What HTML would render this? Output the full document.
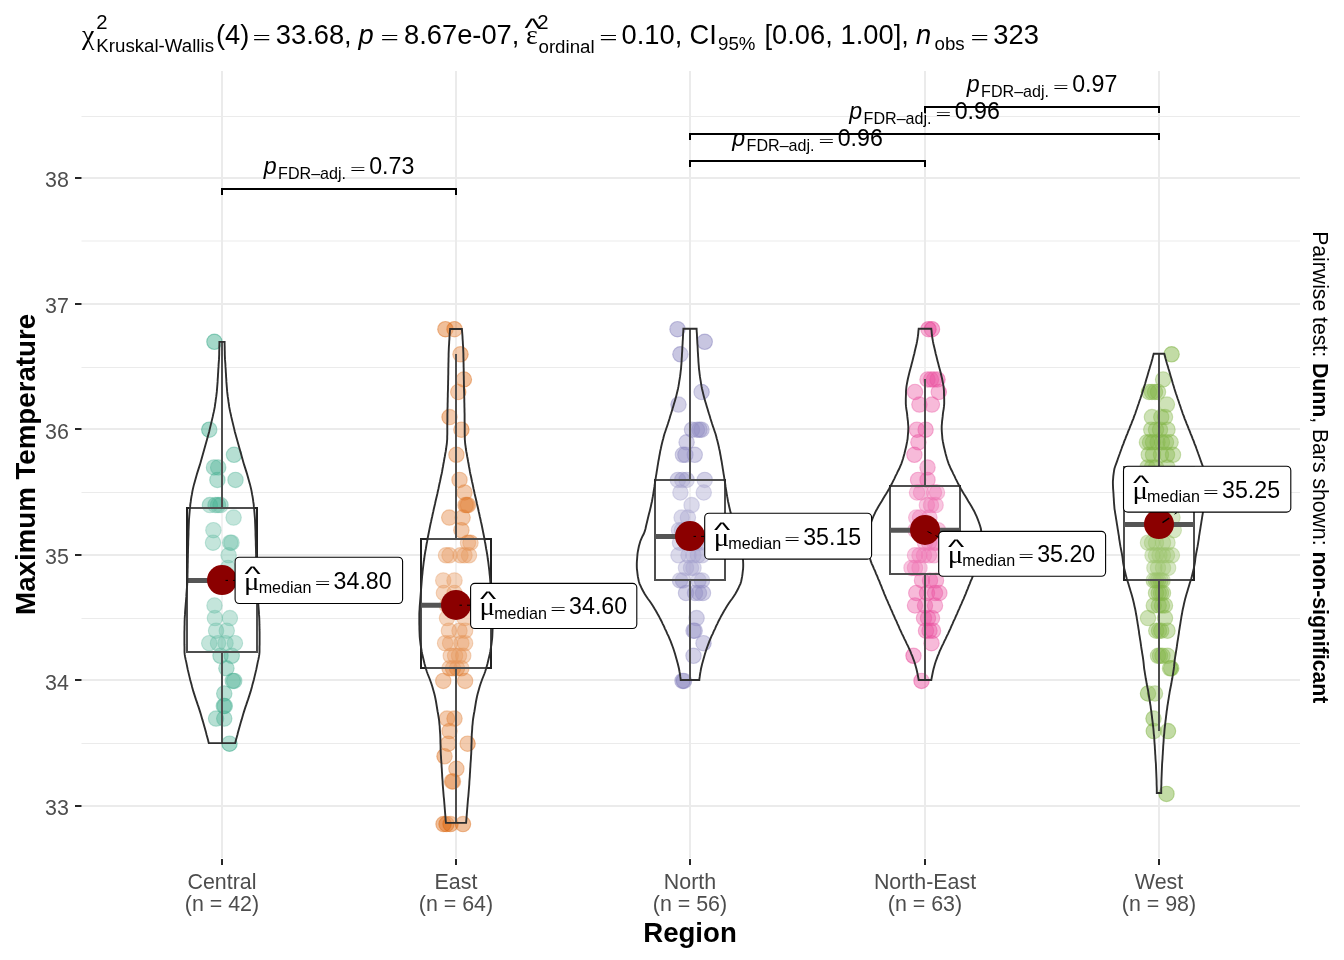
<!DOCTYPE html>
<html lang="en"><head><meta charset="utf-8"><title>Maximum Temperature by Region</title>
<style>html,body{margin:0;padding:0;background:#fff}svg{display:block}text{font-family:"Liberation Sans",Arial,sans-serif}.sy{font-family:"Liberation Serif","DejaVu Serif",serif}.it{font-style:italic}</style></head><body>
<svg width="1344" height="960" viewBox="0 0 1344 960">
<rect width="1344" height="960" fill="#fff"/>
<g stroke="#EBEBEB" fill="none">
<line x1="81.5" x2="1300" y1="806" y2="806" stroke-width="2"/>
<line x1="81.5" x2="1300" y1="680" y2="680" stroke-width="2"/>
<line x1="81.5" x2="1300" y1="555" y2="555" stroke-width="2"/>
<line x1="81.5" x2="1300" y1="429" y2="429" stroke-width="2"/>
<line x1="81.5" x2="1300" y1="304" y2="304" stroke-width="2"/>
<line x1="81.5" x2="1300" y1="178" y2="178" stroke-width="2"/>
<line x1="81.5" x2="1300" y1="116.5" y2="116.5" stroke-width="1"/>
<line x1="81.5" x2="1300" y1="241" y2="241" stroke-width="1"/>
<line x1="81.5" x2="1300" y1="367.5" y2="367.5" stroke-width="1"/>
<line x1="81.5" x2="1300" y1="492.5" y2="492.5" stroke-width="1"/>
<line x1="81.5" x2="1300" y1="618.5" y2="618.5" stroke-width="1"/>
<line x1="81.5" x2="1300" y1="743.5" y2="743.5" stroke-width="1"/>
<line x1="222" x2="222" y1="71" y2="858" stroke-width="2"/>
<line x1="456" x2="456" y1="71" y2="858" stroke-width="2"/>
<line x1="690" x2="690" y1="71" y2="858" stroke-width="2"/>
<line x1="925" x2="925" y1="71" y2="858" stroke-width="2"/>
<line x1="1159" x2="1159" y1="71" y2="858" stroke-width="2"/>
</g>
<g stroke="#262626" stroke-width="2">
<line x1="75.0" x2="81.5" y1="806" y2="806"/>
<line x1="75.0" x2="81.5" y1="680" y2="680"/>
<line x1="75.0" x2="81.5" y1="555" y2="555"/>
<line x1="75.0" x2="81.5" y1="429" y2="429"/>
<line x1="75.0" x2="81.5" y1="304" y2="304"/>
<line x1="75.0" x2="81.5" y1="178" y2="178"/>
<line x1="222" x2="222" y1="859" y2="865"/>
<line x1="456" x2="456" y1="859" y2="865"/>
<line x1="690" x2="690" y1="859" y2="865"/>
<line x1="925" x2="925" y1="859" y2="865"/>
<line x1="1159" x2="1159" y1="859" y2="865"/>
</g>
<g fill="#1B9E77" fill-opacity="0.4" stroke="#1B9E77" stroke-opacity="0.4" stroke-width="1.1">
<circle cx="214.4" cy="341.8" r="7.7"/><circle cx="209.25" cy="429.7" r="7.7"/><circle cx="234" cy="454.8" r="7.7"/><circle cx="214" cy="467.4" r="7.7"/><circle cx="218.2" cy="467.4" r="7.7"/><circle cx="217.4" cy="479.9" r="7.7"/><circle cx="235.5" cy="479.9" r="7.7"/><circle cx="209.9" cy="505.1" r="7.7"/><circle cx="215.5" cy="505.1" r="7.7"/><circle cx="220.5" cy="505.1" r="7.7"/><circle cx="218" cy="505.1" r="7.7"/><circle cx="233.6" cy="517.6" r="7.7"/><circle cx="213.4" cy="530.2" r="7.7"/><circle cx="213" cy="542.7" r="7.7"/><circle cx="230.2" cy="542.7" r="7.7"/><circle cx="231.5" cy="542.7" r="7.7"/><circle cx="228.6" cy="555.3" r="7.7"/><circle cx="228" cy="567.9" r="7.7"/><circle cx="221" cy="580.4" r="7.7"/><circle cx="223" cy="580.4" r="7.7"/><circle cx="224" cy="580.4" r="7.7"/><circle cx="220" cy="580.4" r="7.7"/><circle cx="214.5" cy="605.5" r="7.7"/><circle cx="214.9" cy="618.1" r="7.7"/><circle cx="229.9" cy="618.1" r="7.7"/><circle cx="216.1" cy="630.7" r="7.7"/><circle cx="226.75" cy="630.7" r="7.7"/><circle cx="209.25" cy="643.2" r="7.7"/><circle cx="218" cy="643.2" r="7.7"/><circle cx="225.5" cy="643.2" r="7.7"/><circle cx="234.9" cy="643.2" r="7.7"/><circle cx="220.5" cy="655.8" r="7.7"/><circle cx="231.75" cy="655.8" r="7.7"/><circle cx="226.4" cy="668.3" r="7.7"/><circle cx="232.8" cy="680.9" r="7.7"/><circle cx="234.2" cy="680.9" r="7.7"/><circle cx="224.25" cy="693.5" r="7.7"/><circle cx="223.8" cy="706.0" r="7.7"/><circle cx="224.8" cy="706.0" r="7.7"/><circle cx="216.1" cy="718.6" r="7.7"/><circle cx="224.25" cy="718.6" r="7.7"/><circle cx="229.5" cy="743.7" r="7.7"/>
</g>
<g fill="#D95F02" fill-opacity="0.4" stroke="#D95F02" stroke-opacity="0.4" stroke-width="1.1">
<circle cx="445.4" cy="329.2" r="7.7"/><circle cx="454.5" cy="329.2" r="7.7"/><circle cx="460.5" cy="354.3" r="7.7"/><circle cx="463.9" cy="379.5" r="7.7"/><circle cx="458.25" cy="392.0" r="7.7"/><circle cx="449.5" cy="417.1" r="7.7"/><circle cx="461.4" cy="429.7" r="7.7"/><circle cx="456.4" cy="454.8" r="7.7"/><circle cx="459.5" cy="479.9" r="7.7"/><circle cx="464.5" cy="492.5" r="7.7"/><circle cx="465.5" cy="505.1" r="7.7"/><circle cx="466.75" cy="505.1" r="7.7"/><circle cx="468" cy="505.1" r="7.7"/><circle cx="449.25" cy="517.6" r="7.7"/><circle cx="462.6" cy="517.6" r="7.7"/><circle cx="461.4" cy="530.2" r="7.7"/><circle cx="468" cy="542.7" r="7.7"/><circle cx="470.5" cy="542.7" r="7.7"/><circle cx="446" cy="555.3" r="7.7"/><circle cx="449.5" cy="555.3" r="7.7"/><circle cx="460.5" cy="555.3" r="7.7"/><circle cx="464.5" cy="555.3" r="7.7"/><circle cx="469" cy="555.3" r="7.7"/><circle cx="443.25" cy="580.4" r="7.7"/><circle cx="454.5" cy="580.4" r="7.7"/><circle cx="443.9" cy="593.0" r="7.7"/><circle cx="454.5" cy="593.0" r="7.7"/><circle cx="447" cy="605.5" r="7.7"/><circle cx="455" cy="605.5" r="7.7"/><circle cx="457" cy="605.5" r="7.7"/><circle cx="453" cy="605.5" r="7.7"/><circle cx="459" cy="605.5" r="7.7"/><circle cx="447" cy="618.1" r="7.7"/><circle cx="464.5" cy="618.1" r="7.7"/><circle cx="448.9" cy="630.7" r="7.7"/><circle cx="459.5" cy="630.7" r="7.7"/><circle cx="465.1" cy="630.7" r="7.7"/><circle cx="445.1" cy="643.2" r="7.7"/><circle cx="450.1" cy="643.2" r="7.7"/><circle cx="461.4" cy="643.2" r="7.7"/><circle cx="465.1" cy="643.2" r="7.7"/><circle cx="450.75" cy="655.8" r="7.7"/><circle cx="455.1" cy="655.8" r="7.7"/><circle cx="459" cy="655.8" r="7.7"/><circle cx="463.25" cy="655.8" r="7.7"/><circle cx="449.5" cy="668.3" r="7.7"/><circle cx="453" cy="668.3" r="7.7"/><circle cx="457" cy="668.3" r="7.7"/><circle cx="461.4" cy="668.3" r="7.7"/><circle cx="443.25" cy="680.9" r="7.7"/><circle cx="465.1" cy="680.9" r="7.7"/><circle cx="447" cy="718.6" r="7.7"/><circle cx="454.5" cy="718.6" r="7.7"/><circle cx="449.5" cy="731.1" r="7.7"/><circle cx="448.25" cy="743.7" r="7.7"/><circle cx="467.6" cy="743.7" r="7.7"/><circle cx="444.5" cy="756.3" r="7.7"/><circle cx="456.4" cy="768.8" r="7.7"/><circle cx="452" cy="781.4" r="7.7"/><circle cx="453" cy="781.4" r="7.7"/><circle cx="443.5" cy="824.1" r="7.7"/><circle cx="446.5" cy="824.1" r="7.7"/><circle cx="450.5" cy="824.1" r="7.7"/><circle cx="463" cy="824.1" r="7.7"/>
</g>
<g fill="#7570B3" fill-opacity="0.4" stroke="#7570B3" stroke-opacity="0.4" stroke-width="1.1">
<circle cx="677.5" cy="329.2" r="7.7"/><circle cx="704.75" cy="341.8" r="7.7"/><circle cx="680.4" cy="354.3" r="7.7"/><circle cx="701.6" cy="392.0" r="7.7"/><circle cx="678.5" cy="404.6" r="7.7"/><circle cx="692" cy="429.7" r="7.7"/><circle cx="697" cy="429.7" r="7.7"/><circle cx="699.5" cy="429.7" r="7.7"/><circle cx="701.5" cy="429.7" r="7.7"/><circle cx="686.6" cy="442.3" r="7.7"/><circle cx="682.9" cy="454.8" r="7.7"/><circle cx="685.4" cy="454.8" r="7.7"/><circle cx="694.75" cy="454.8" r="7.7"/><circle cx="677.9" cy="479.9" r="7.7"/><circle cx="682.25" cy="479.9" r="7.7"/><circle cx="686.6" cy="479.9" r="7.7"/><circle cx="704.75" cy="479.9" r="7.7"/><circle cx="680.4" cy="492.5" r="7.7"/><circle cx="703.75" cy="492.5" r="7.7"/><circle cx="691.6" cy="505.1" r="7.7"/><circle cx="681.6" cy="517.6" r="7.7"/><circle cx="687.9" cy="517.6" r="7.7"/><circle cx="679" cy="530.2" r="7.7"/><circle cx="682" cy="530.2" r="7.7"/><circle cx="690" cy="530.2" r="7.7"/><circle cx="693" cy="530.2" r="7.7"/><circle cx="688" cy="530.2" r="7.7"/><circle cx="680" cy="542.7" r="7.7"/><circle cx="688" cy="542.7" r="7.7"/><circle cx="692" cy="542.7" r="7.7"/><circle cx="696" cy="542.7" r="7.7"/><circle cx="700" cy="542.7" r="7.7"/><circle cx="690" cy="542.7" r="7.7"/><circle cx="678.5" cy="555.3" r="7.7"/><circle cx="688.5" cy="555.3" r="7.7"/><circle cx="693.5" cy="555.3" r="7.7"/><circle cx="698" cy="555.3" r="7.7"/><circle cx="702" cy="555.3" r="7.7"/><circle cx="686" cy="567.9" r="7.7"/><circle cx="691" cy="567.9" r="7.7"/><circle cx="693.5" cy="567.9" r="7.7"/><circle cx="680" cy="580.4" r="7.7"/><circle cx="683" cy="580.4" r="7.7"/><circle cx="698.5" cy="580.4" r="7.7"/><circle cx="702" cy="580.4" r="7.7"/><circle cx="686" cy="593.0" r="7.7"/><circle cx="699" cy="593.0" r="7.7"/><circle cx="703" cy="593.0" r="7.7"/><circle cx="695" cy="593.0" r="7.7"/><circle cx="696.6" cy="618.1" r="7.7"/><circle cx="693.5" cy="630.7" r="7.7"/><circle cx="694.7" cy="630.7" r="7.7"/><circle cx="703.5" cy="643.2" r="7.7"/><circle cx="693.5" cy="655.8" r="7.7"/><circle cx="682.5" cy="680.9" r="7.7"/><circle cx="684" cy="680.9" r="7.7"/>
</g>
<g fill="#E7298A" fill-opacity="0.4" stroke="#E7298A" stroke-opacity="0.4" stroke-width="1.1">
<circle cx="928.5" cy="329.2" r="7.7"/><circle cx="932" cy="329.2" r="7.7"/><circle cx="927.5" cy="379.5" r="7.7"/><circle cx="931" cy="379.5" r="7.7"/><circle cx="934" cy="379.5" r="7.7"/><circle cx="937.5" cy="379.5" r="7.7"/><circle cx="915" cy="392.0" r="7.7"/><circle cx="938.75" cy="392.0" r="7.7"/><circle cx="919.4" cy="404.6" r="7.7"/><circle cx="931.9" cy="404.6" r="7.7"/><circle cx="916.9" cy="429.7" r="7.7"/><circle cx="925.6" cy="429.7" r="7.7"/><circle cx="918.4" cy="442.3" r="7.7"/><circle cx="914.4" cy="454.8" r="7.7"/><circle cx="927.5" cy="467.4" r="7.7"/><circle cx="918.1" cy="479.9" r="7.7"/><circle cx="927.5" cy="479.9" r="7.7"/><circle cx="917" cy="492.5" r="7.7"/><circle cx="921" cy="492.5" r="7.7"/><circle cx="934" cy="492.5" r="7.7"/><circle cx="937" cy="492.5" r="7.7"/><circle cx="926.9" cy="505.1" r="7.7"/><circle cx="931" cy="505.1" r="7.7"/><circle cx="935.6" cy="505.1" r="7.7"/><circle cx="916.25" cy="517.6" r="7.7"/><circle cx="920" cy="517.6" r="7.7"/><circle cx="929.4" cy="517.6" r="7.7"/><circle cx="915.5" cy="530.2" r="7.7"/><circle cx="938" cy="530.2" r="7.7"/><circle cx="924" cy="530.2" r="7.7"/><circle cx="927" cy="530.2" r="7.7"/><circle cx="934" cy="542.7" r="7.7"/><circle cx="929" cy="542.7" r="7.7"/><circle cx="925" cy="542.7" r="7.7"/><circle cx="936.25" cy="542.7" r="7.7"/><circle cx="915" cy="555.3" r="7.7"/><circle cx="919.5" cy="555.3" r="7.7"/><circle cx="924" cy="555.3" r="7.7"/><circle cx="929" cy="555.3" r="7.7"/><circle cx="934" cy="555.3" r="7.7"/><circle cx="911.5" cy="567.9" r="7.7"/><circle cx="915" cy="567.9" r="7.7"/><circle cx="919.5" cy="567.9" r="7.7"/><circle cx="922" cy="580.4" r="7.7"/><circle cx="930" cy="580.4" r="7.7"/><circle cx="936" cy="580.4" r="7.7"/><circle cx="916.25" cy="593.0" r="7.7"/><circle cx="927" cy="593.0" r="7.7"/><circle cx="935" cy="593.0" r="7.7"/><circle cx="939.4" cy="593.0" r="7.7"/><circle cx="915" cy="605.5" r="7.7"/><circle cx="925" cy="605.5" r="7.7"/><circle cx="935" cy="605.5" r="7.7"/><circle cx="924" cy="618.1" r="7.7"/><circle cx="928" cy="618.1" r="7.7"/><circle cx="932" cy="618.1" r="7.7"/><circle cx="926" cy="630.7" r="7.7"/><circle cx="929.5" cy="630.7" r="7.7"/><circle cx="933" cy="630.7" r="7.7"/><circle cx="931.5" cy="643.2" r="7.7"/><circle cx="913.5" cy="655.8" r="7.7"/><circle cx="921.5" cy="680.9" r="7.7"/>
</g>
<g fill="#66A61E" fill-opacity="0.4" stroke="#66A61E" stroke-opacity="0.4" stroke-width="1.1">
<circle cx="1171.6" cy="354.3" r="7.7"/><circle cx="1163.1" cy="379.5" r="7.7"/><circle cx="1149" cy="392.0" r="7.7"/><circle cx="1152" cy="392.0" r="7.7"/><circle cx="1155" cy="392.0" r="7.7"/><circle cx="1158" cy="392.0" r="7.7"/><circle cx="1166.9" cy="404.6" r="7.7"/><circle cx="1151.9" cy="417.1" r="7.7"/><circle cx="1161.25" cy="417.1" r="7.7"/><circle cx="1165" cy="417.1" r="7.7"/><circle cx="1151.25" cy="429.7" r="7.7"/><circle cx="1156" cy="429.7" r="7.7"/><circle cx="1160" cy="429.7" r="7.7"/><circle cx="1167.5" cy="429.7" r="7.7"/><circle cx="1146.9" cy="442.3" r="7.7"/><circle cx="1150" cy="442.3" r="7.7"/><circle cx="1153" cy="442.3" r="7.7"/><circle cx="1157.5" cy="442.3" r="7.7"/><circle cx="1162" cy="442.3" r="7.7"/><circle cx="1166" cy="442.3" r="7.7"/><circle cx="1170.6" cy="442.3" r="7.7"/><circle cx="1148.75" cy="454.8" r="7.7"/><circle cx="1153" cy="454.8" r="7.7"/><circle cx="1161" cy="454.8" r="7.7"/><circle cx="1167" cy="454.8" r="7.7"/><circle cx="1173" cy="454.8" r="7.7"/><circle cx="1147.5" cy="467.4" r="7.7"/><circle cx="1152" cy="467.4" r="7.7"/><circle cx="1156" cy="467.4" r="7.7"/><circle cx="1167.5" cy="467.4" r="7.7"/><circle cx="1150" cy="479.9" r="7.7"/><circle cx="1155" cy="479.9" r="7.7"/><circle cx="1160" cy="479.9" r="7.7"/><circle cx="1165" cy="479.9" r="7.7"/><circle cx="1170" cy="479.9" r="7.7"/><circle cx="1150" cy="492.5" r="7.7"/><circle cx="1156" cy="492.5" r="7.7"/><circle cx="1162" cy="492.5" r="7.7"/><circle cx="1168" cy="492.5" r="7.7"/><circle cx="1152" cy="505.1" r="7.7"/><circle cx="1158" cy="505.1" r="7.7"/><circle cx="1164" cy="505.1" r="7.7"/><circle cx="1170" cy="505.1" r="7.7"/><circle cx="1172.5" cy="517.6" r="7.7"/><circle cx="1158" cy="517.6" r="7.7"/><circle cx="1161" cy="517.6" r="7.7"/><circle cx="1173.75" cy="530.2" r="7.7"/><circle cx="1157" cy="530.2" r="7.7"/><circle cx="1160" cy="530.2" r="7.7"/><circle cx="1162" cy="530.2" r="7.7"/><circle cx="1148" cy="542.7" r="7.7"/><circle cx="1152" cy="542.7" r="7.7"/><circle cx="1156" cy="542.7" r="7.7"/><circle cx="1163" cy="542.7" r="7.7"/><circle cx="1167.5" cy="542.7" r="7.7"/><circle cx="1152.5" cy="555.3" r="7.7"/><circle cx="1156" cy="555.3" r="7.7"/><circle cx="1159.5" cy="555.3" r="7.7"/><circle cx="1163" cy="555.3" r="7.7"/><circle cx="1167" cy="555.3" r="7.7"/><circle cx="1171.9" cy="555.3" r="7.7"/><circle cx="1154.4" cy="567.9" r="7.7"/><circle cx="1158" cy="567.9" r="7.7"/><circle cx="1163" cy="567.9" r="7.7"/><circle cx="1168.1" cy="567.9" r="7.7"/><circle cx="1153.75" cy="580.4" r="7.7"/><circle cx="1156" cy="580.4" r="7.7"/><circle cx="1158.1" cy="580.4" r="7.7"/><circle cx="1160.5" cy="580.4" r="7.7"/><circle cx="1162.5" cy="580.4" r="7.7"/><circle cx="1156" cy="593.0" r="7.7"/><circle cx="1158.75" cy="593.0" r="7.7"/><circle cx="1161" cy="593.0" r="7.7"/><circle cx="1163" cy="593.0" r="7.7"/><circle cx="1153.75" cy="605.5" r="7.7"/><circle cx="1158.75" cy="605.5" r="7.7"/><circle cx="1162" cy="605.5" r="7.7"/><circle cx="1165" cy="605.5" r="7.7"/><circle cx="1148" cy="618.1" r="7.7"/><circle cx="1165" cy="618.1" r="7.7"/><circle cx="1156.25" cy="630.7" r="7.7"/><circle cx="1159" cy="630.7" r="7.7"/><circle cx="1161.25" cy="630.7" r="7.7"/><circle cx="1167.5" cy="630.7" r="7.7"/><circle cx="1158" cy="655.8" r="7.7"/><circle cx="1160" cy="655.8" r="7.7"/><circle cx="1162.5" cy="655.8" r="7.7"/><circle cx="1167.5" cy="655.8" r="7.7"/><circle cx="1170" cy="668.3" r="7.7"/><circle cx="1171.2" cy="668.3" r="7.7"/><circle cx="1148" cy="693.5" r="7.7"/><circle cx="1155" cy="693.5" r="7.7"/><circle cx="1153.5" cy="718.6" r="7.7"/><circle cx="1153.75" cy="731.1" r="7.7"/><circle cx="1168" cy="731.1" r="7.7"/><circle cx="1166.5" cy="793.9" r="7.7"/>
</g>
<g stroke="#222" stroke-width="2" fill="#fff" fill-opacity="0.2">
<line x1="222" x2="222" y1="342" y2="508"/><line x1="222" x2="222" y1="652" y2="743"/>
<rect x="187.0" y="508" width="70.0" height="144.0"/>
<line x1="187.0" x2="257.0" y1="580.4" y2="580.4" stroke-width="5" stroke="#2b2b2b"/>
<line x1="456" x2="456" y1="354" y2="539"/><line x1="456" x2="456" y1="668" y2="823"/>
<rect x="421.0" y="539" width="70.0" height="129.0"/>
<line x1="421.0" x2="491.0" y1="605.2" y2="605.2" stroke-width="5" stroke="#2b2b2b"/>
<line x1="690" x2="690" y1="329" y2="480"/><line x1="690" x2="690" y1="580" y2="680"/>
<rect x="655.0" y="480" width="70.0" height="100.0"/>
<line x1="655.0" x2="725.0" y1="536.4" y2="536.4" stroke-width="5" stroke="#2b2b2b"/>
<line x1="925" x2="925" y1="379" y2="486"/><line x1="925" x2="925" y1="574" y2="680"/>
<rect x="890.0" y="486" width="70.0" height="88.0"/>
<line x1="890.0" x2="960.0" y1="530.2" y2="530.2" stroke-width="5" stroke="#2b2b2b"/>
<line x1="1159" x2="1159" y1="354" y2="467"/><line x1="1159" x2="1159" y1="580" y2="731"/>
<rect x="1124.0" y="467" width="70.0" height="113.0"/>
<line x1="1124.0" x2="1194.0" y1="524.4" y2="524.4" stroke-width="5" stroke="#2b2b2b"/>
</g>
<g stroke="#2e2e2e" stroke-width="1.9" fill="#fff" fill-opacity="0.2" stroke-linejoin="miter">
<path d="M224.6,341.9 L224.6,344.4 L224.7,346.9 L224.7,349.4 L224.8,351.9 L224.8,354.4 L224.9,356.9 L225.0,359.4 L225.2,361.9 L225.4,364.4 L225.5,366.9 L225.7,369.4 L225.8,371.9 L226.0,374.4 L226.1,376.9 L226.3,379.4 L226.4,381.9 L226.6,384.4 L226.8,386.9 L227.0,389.4 L227.2,391.9 L227.5,394.4 L227.8,396.9 L228.2,399.4 L228.5,401.9 L228.9,404.4 L229.2,406.9 L229.7,409.4 L230.2,411.9 L230.8,414.4 L231.3,416.9 L231.9,419.4 L232.5,421.9 L233.1,424.4 L233.7,426.9 L234.3,429.4 L234.9,431.9 L235.6,434.4 L236.3,436.9 L237.0,439.4 L237.7,441.9 L238.4,444.4 L239.1,446.9 L239.8,449.4 L240.5,451.9 L241.2,454.4 L241.9,456.9 L242.6,459.4 L243.3,461.9 L244.0,464.4 L244.8,466.9 L245.6,469.4 L246.4,471.9 L247.2,474.4 L247.9,476.9 L248.6,479.4 L249.3,481.9 L250.0,484.4 L250.6,486.9 L251.2,489.4 L251.7,491.9 L252.1,494.4 L252.6,496.9 L253.0,499.4 L253.3,501.9 L253.7,504.4 L253.9,506.9 L254.2,509.4 L254.4,511.9 L254.6,514.4 L254.8,516.9 L255.0,519.4 L255.1,521.9 L255.2,524.4 L255.3,526.9 L255.4,529.4 L255.5,531.9 L255.5,534.4 L255.6,536.9 L255.7,539.4 L255.8,541.9 L255.8,544.4 L255.9,546.9 L256.0,549.4 L256.0,551.9 L256.1,554.4 L256.1,556.9 L256.2,559.4 L256.2,561.9 L256.3,564.4 L256.3,566.9 L256.4,569.4 L256.4,571.9 L256.5,574.4 L256.5,576.9 L256.6,579.4 L256.7,581.9 L256.8,584.4 L257.0,586.9 L257.2,589.4 L257.4,591.9 L257.6,594.4 L257.7,596.9 L257.9,599.4 L258.1,601.9 L258.3,604.4 L258.5,606.9 L258.7,609.4 L258.9,611.9 L259.0,614.4 L259.2,616.9 L259.3,619.4 L259.4,621.9 L259.4,624.4 L259.5,626.9 L259.5,629.4 L259.6,631.9 L259.6,634.4 L259.6,636.9 L259.6,639.4 L259.6,641.9 L259.6,644.4 L259.5,646.9 L259.5,649.4 L259.5,651.9 L259.3,654.4 L258.9,656.9 L258.4,659.4 L257.8,661.9 L257.3,664.4 L256.8,666.9 L256.3,669.4 L255.7,671.9 L255.1,674.4 L254.5,676.9 L253.9,679.4 L253.2,681.9 L252.5,684.4 L251.9,686.9 L251.2,689.4 L250.5,691.9 L249.7,694.4 L248.9,696.9 L248.1,699.4 L247.2,701.9 L246.4,704.4 L245.5,706.9 L244.7,709.4 L243.9,711.9 L243.1,714.4 L242.4,716.9 L241.7,719.4 L240.9,721.9 L240.2,724.4 L239.5,726.9 L238.8,729.4 L238.1,731.9 L237.5,734.4 L236.8,736.9 L236.1,739.4 L235.5,741.9 L235.2,743.1 L208.8,743.1 L208.5,741.9 L207.9,739.4 L207.2,736.9 L206.5,734.4 L205.9,731.9 L205.2,729.4 L204.5,726.9 L203.8,724.4 L203.1,721.9 L202.3,719.4 L201.6,716.9 L200.9,714.4 L200.1,711.9 L199.3,709.4 L198.5,706.9 L197.6,704.4 L196.8,701.9 L195.9,699.4 L195.1,696.9 L194.3,694.4 L193.5,691.9 L192.8,689.4 L192.1,686.9 L191.5,684.4 L190.8,681.9 L190.1,679.4 L189.5,676.9 L188.9,674.4 L188.3,671.9 L187.7,669.4 L187.2,666.9 L186.7,664.4 L186.2,661.9 L185.6,659.4 L185.1,656.9 L184.7,654.4 L184.5,651.9 L184.5,649.4 L184.5,646.9 L184.4,644.4 L184.4,641.9 L184.4,639.4 L184.4,636.9 L184.4,634.4 L184.4,631.9 L184.5,629.4 L184.5,626.9 L184.6,624.4 L184.6,621.9 L184.7,619.4 L184.8,616.9 L185.0,614.4 L185.1,611.9 L185.3,609.4 L185.5,606.9 L185.7,604.4 L185.9,601.9 L186.1,599.4 L186.3,596.9 L186.4,594.4 L186.6,591.9 L186.8,589.4 L187.0,586.9 L187.2,584.4 L187.3,581.9 L187.4,579.4 L187.5,576.9 L187.5,574.4 L187.6,571.9 L187.6,569.4 L187.7,566.9 L187.7,564.4 L187.8,561.9 L187.8,559.4 L187.9,556.9 L187.9,554.4 L188.0,551.9 L188.0,549.4 L188.1,546.9 L188.2,544.4 L188.2,541.9 L188.3,539.4 L188.4,536.9 L188.5,534.4 L188.5,531.9 L188.6,529.4 L188.7,526.9 L188.8,524.4 L188.9,521.9 L189.0,519.4 L189.2,516.9 L189.4,514.4 L189.6,511.9 L189.8,509.4 L190.1,506.9 L190.3,504.4 L190.7,501.9 L191.0,499.4 L191.4,496.9 L191.9,494.4 L192.3,491.9 L192.8,489.4 L193.4,486.9 L194.0,484.4 L194.7,481.9 L195.4,479.4 L196.1,476.9 L196.8,474.4 L197.6,471.9 L198.4,469.4 L199.2,466.9 L200.0,464.4 L200.7,461.9 L201.4,459.4 L202.1,456.9 L202.8,454.4 L203.5,451.9 L204.2,449.4 L204.9,446.9 L205.6,444.4 L206.3,441.9 L207.0,439.4 L207.7,436.9 L208.4,434.4 L209.1,431.9 L209.7,429.4 L210.3,426.9 L210.9,424.4 L211.5,421.9 L212.1,419.4 L212.7,416.9 L213.2,414.4 L213.8,411.9 L214.3,409.4 L214.8,406.9 L215.1,404.4 L215.5,401.9 L215.8,399.4 L216.2,396.9 L216.5,394.4 L216.8,391.9 L217.0,389.4 L217.2,386.9 L217.4,384.4 L217.6,381.9 L217.7,379.4 L217.9,376.9 L218.0,374.4 L218.2,371.9 L218.3,369.4 L218.5,366.9 L218.6,364.4 L218.8,361.9 L219.0,359.4 L219.1,356.9 L219.2,354.4 L219.2,351.9 L219.3,349.4 L219.3,346.9 L219.4,344.4 L219.4,341.9Z"/>
<path d="M461.9,329.0 L462.1,331.5 L462.3,334.0 L462.5,336.5 L462.6,339.0 L462.8,341.5 L462.9,344.0 L463.1,346.5 L463.2,349.0 L463.3,351.5 L463.4,354.0 L463.4,356.5 L463.5,359.0 L463.5,361.5 L463.6,364.0 L463.6,366.5 L463.7,369.0 L463.7,371.5 L463.7,374.0 L463.8,376.5 L463.8,379.0 L463.9,381.5 L463.9,384.0 L464.0,386.5 L464.0,389.0 L464.1,391.5 L464.2,394.0 L464.2,396.5 L464.3,399.0 L464.3,401.5 L464.4,404.0 L464.4,406.5 L464.5,409.0 L464.5,411.5 L464.6,414.0 L464.6,416.5 L464.6,419.0 L464.6,421.5 L464.7,424.0 L464.7,426.5 L464.7,429.0 L464.7,431.5 L464.7,434.0 L464.8,436.5 L464.8,439.0 L465.0,441.5 L465.2,444.0 L465.6,446.5 L465.9,449.0 L466.3,451.5 L466.8,454.0 L467.2,456.5 L467.7,459.0 L468.1,461.5 L468.6,464.0 L469.0,466.5 L469.5,469.0 L469.9,471.5 L470.4,474.0 L471.0,476.5 L471.5,479.0 L472.0,481.5 L472.6,484.0 L473.1,486.5 L473.6,489.0 L474.2,491.5 L474.7,494.0 L475.3,496.5 L475.9,499.0 L476.5,501.5 L477.0,504.0 L477.6,506.5 L478.2,509.0 L478.7,511.5 L479.3,514.0 L479.8,516.5 L480.4,519.0 L480.9,521.5 L481.5,524.0 L482.0,526.5 L482.5,529.0 L483.0,531.5 L483.5,534.0 L484.0,536.5 L484.5,539.0 L484.9,541.5 L485.4,544.0 L485.8,546.5 L486.2,549.0 L486.7,551.5 L487.1,554.0 L487.5,556.5 L487.8,559.0 L488.2,561.5 L488.5,564.0 L488.8,566.5 L489.1,569.0 L489.4,571.5 L489.6,574.0 L489.9,576.5 L490.1,579.0 L490.3,581.5 L490.5,584.0 L490.7,586.5 L490.9,589.0 L491.1,591.5 L491.3,594.0 L491.5,596.5 L491.7,599.0 L491.9,601.5 L492.1,604.0 L492.3,606.5 L492.4,609.0 L492.6,611.5 L492.7,614.0 L492.7,616.5 L492.7,619.0 L492.7,621.5 L492.7,624.0 L492.6,626.5 L492.6,629.0 L492.5,631.5 L492.4,634.0 L492.3,636.5 L492.1,639.0 L491.8,641.5 L491.5,644.0 L491.1,646.5 L490.7,649.0 L490.3,651.5 L489.8,654.0 L489.2,656.5 L488.6,659.0 L488.0,661.5 L487.4,664.0 L486.7,666.5 L486.0,669.0 L485.2,671.5 L484.3,674.0 L483.3,676.5 L482.3,679.0 L481.4,681.5 L480.5,684.0 L479.7,686.5 L479.0,689.0 L478.3,691.5 L477.6,694.0 L477.0,696.5 L476.5,699.0 L476.0,701.5 L475.6,704.0 L475.2,706.5 L474.8,709.0 L474.4,711.5 L473.9,714.0 L473.5,716.5 L473.1,719.0 L472.8,721.5 L472.6,724.0 L472.3,726.5 L472.2,729.0 L472.0,731.5 L471.8,734.0 L471.7,736.5 L471.6,739.0 L471.6,741.5 L471.5,744.0 L471.4,746.5 L471.4,749.0 L471.3,751.5 L471.2,754.0 L471.0,756.5 L470.9,759.0 L470.7,761.5 L470.5,764.0 L470.4,766.5 L470.2,769.0 L470.1,771.5 L469.9,774.0 L469.8,776.5 L469.6,779.0 L469.4,781.5 L469.3,784.0 L469.1,786.5 L468.9,789.0 L468.7,791.5 L468.5,794.0 L468.3,796.5 L468.0,799.0 L467.8,801.5 L467.6,804.0 L467.4,806.5 L467.2,809.0 L467.0,811.5 L466.8,814.0 L466.6,816.5 L466.4,819.0 L466.2,821.5 L466.1,822.9 L445.9,822.9 L445.8,821.5 L445.6,819.0 L445.4,816.5 L445.2,814.0 L445.0,811.5 L444.8,809.0 L444.6,806.5 L444.4,804.0 L444.2,801.5 L444.0,799.0 L443.7,796.5 L443.5,794.0 L443.3,791.5 L443.1,789.0 L442.9,786.5 L442.7,784.0 L442.6,781.5 L442.4,779.0 L442.2,776.5 L442.1,774.0 L441.9,771.5 L441.8,769.0 L441.6,766.5 L441.5,764.0 L441.3,761.5 L441.1,759.0 L441.0,756.5 L440.8,754.0 L440.7,751.5 L440.6,749.0 L440.6,746.5 L440.5,744.0 L440.4,741.5 L440.4,739.0 L440.3,736.5 L440.2,734.0 L440.0,731.5 L439.8,729.0 L439.7,726.5 L439.4,724.0 L439.2,721.5 L438.9,719.0 L438.5,716.5 L438.1,714.0 L437.6,711.5 L437.2,709.0 L436.8,706.5 L436.4,704.0 L436.0,701.5 L435.5,699.0 L435.0,696.5 L434.4,694.0 L433.7,691.5 L433.0,689.0 L432.3,686.5 L431.5,684.0 L430.6,681.5 L429.7,679.0 L428.7,676.5 L427.7,674.0 L426.8,671.5 L426.0,669.0 L425.3,666.5 L424.6,664.0 L424.0,661.5 L423.4,659.0 L422.8,656.5 L422.2,654.0 L421.7,651.5 L421.3,649.0 L420.9,646.5 L420.5,644.0 L420.2,641.5 L419.9,639.0 L419.7,636.5 L419.6,634.0 L419.5,631.5 L419.4,629.0 L419.4,626.5 L419.3,624.0 L419.3,621.5 L419.3,619.0 L419.3,616.5 L419.3,614.0 L419.4,611.5 L419.6,609.0 L419.7,606.5 L419.9,604.0 L420.1,601.5 L420.3,599.0 L420.5,596.5 L420.7,594.0 L420.9,591.5 L421.1,589.0 L421.3,586.5 L421.5,584.0 L421.7,581.5 L421.9,579.0 L422.1,576.5 L422.4,574.0 L422.6,571.5 L422.9,569.0 L423.2,566.5 L423.5,564.0 L423.8,561.5 L424.2,559.0 L424.5,556.5 L424.9,554.0 L425.3,551.5 L425.8,549.0 L426.2,546.5 L426.6,544.0 L427.1,541.5 L427.5,539.0 L428.0,536.5 L428.5,534.0 L429.0,531.5 L429.5,529.0 L430.0,526.5 L430.5,524.0 L431.1,521.5 L431.6,519.0 L432.2,516.5 L432.7,514.0 L433.3,511.5 L433.8,509.0 L434.4,506.5 L435.0,504.0 L435.5,501.5 L436.1,499.0 L436.7,496.5 L437.3,494.0 L437.8,491.5 L438.4,489.0 L438.9,486.5 L439.4,484.0 L440.0,481.5 L440.5,479.0 L441.0,476.5 L441.6,474.0 L442.1,471.5 L442.5,469.0 L443.0,466.5 L443.4,464.0 L443.9,461.5 L444.3,459.0 L444.8,456.5 L445.2,454.0 L445.7,451.5 L446.1,449.0 L446.4,446.5 L446.8,444.0 L447.0,441.5 L447.2,439.0 L447.2,436.5 L447.3,434.0 L447.3,431.5 L447.3,429.0 L447.3,426.5 L447.3,424.0 L447.4,421.5 L447.4,419.0 L447.4,416.5 L447.4,414.0 L447.5,411.5 L447.5,409.0 L447.6,406.5 L447.6,404.0 L447.7,401.5 L447.7,399.0 L447.8,396.5 L447.8,394.0 L447.9,391.5 L448.0,389.0 L448.0,386.5 L448.1,384.0 L448.1,381.5 L448.2,379.0 L448.2,376.5 L448.3,374.0 L448.3,371.5 L448.3,369.0 L448.4,366.5 L448.4,364.0 L448.5,361.5 L448.5,359.0 L448.6,356.5 L448.6,354.0 L448.7,351.5 L448.8,349.0 L448.9,346.5 L449.1,344.0 L449.2,341.5 L449.4,339.0 L449.5,336.5 L449.7,334.0 L449.9,331.5 L450.1,329.0Z"/>
<path d="M696.6,328.8 L696.7,331.2 L696.9,333.8 L697.0,336.2 L697.1,338.8 L697.3,341.2 L697.4,343.8 L697.6,346.2 L697.7,348.8 L697.8,351.2 L698.0,353.8 L698.1,356.2 L698.3,358.8 L698.4,361.2 L698.6,363.8 L698.8,366.2 L699.0,368.8 L699.3,371.2 L699.6,373.8 L699.9,376.2 L700.3,378.8 L700.7,381.2 L701.1,383.8 L701.5,386.2 L702.0,388.8 L702.6,391.2 L703.2,393.8 L703.8,396.2 L704.5,398.8 L705.2,401.2 L706.0,403.8 L706.7,406.2 L707.5,408.8 L708.2,411.2 L709.0,413.8 L709.8,416.2 L710.5,418.8 L711.3,421.2 L712.1,423.8 L712.9,426.2 L713.8,428.8 L714.6,431.2 L715.5,433.8 L716.2,436.2 L716.8,438.8 L717.5,441.2 L718.1,443.8 L718.7,446.2 L719.2,448.8 L719.8,451.2 L720.2,453.8 L720.7,456.2 L721.1,458.8 L721.6,461.2 L722.0,463.8 L722.4,466.2 L722.8,468.8 L723.2,471.2 L723.6,473.8 L724.0,476.2 L724.4,478.8 L724.8,481.2 L725.2,483.8 L725.5,486.2 L725.9,488.8 L726.3,491.2 L726.7,493.8 L727.1,496.2 L727.6,498.8 L728.0,501.2 L728.6,503.8 L729.1,506.2 L729.7,508.8 L730.3,511.2 L731.0,513.8 L731.6,516.2 L732.2,518.8 L732.8,521.2 L733.4,523.8 L734.0,526.2 L734.5,528.8 L735.2,531.2 L736.2,533.8 L737.5,536.2 L738.7,538.8 L739.7,541.2 L740.4,543.8 L741.1,546.2 L741.6,548.8 L742.1,551.2 L742.5,553.8 L742.7,556.2 L742.9,558.8 L743.1,561.2 L743.2,563.8 L743.2,566.2 L743.1,568.8 L742.8,571.2 L742.5,573.8 L742.2,576.2 L741.7,578.8 L741.2,581.2 L740.4,583.8 L739.3,586.2 L738.1,588.8 L736.8,591.2 L735.4,593.8 L733.8,596.2 L732.1,598.8 L730.2,601.2 L728.5,603.8 L726.9,606.2 L725.4,608.8 L723.9,611.2 L722.5,613.8 L721.1,616.2 L719.8,618.8 L718.5,621.2 L717.3,623.8 L716.1,626.2 L715.0,628.8 L713.8,631.2 L712.7,633.8 L711.5,636.2 L710.4,638.8 L709.4,641.2 L708.4,643.8 L707.5,646.2 L706.6,648.8 L705.8,651.2 L705.0,653.8 L704.3,656.2 L703.6,658.8 L702.9,661.2 L702.2,663.8 L701.6,666.2 L701.0,668.8 L700.6,671.2 L700.1,673.8 L699.8,676.2 L699.4,678.8 L699.3,680.0 L680.7,680.0 L680.6,678.8 L680.2,676.2 L679.9,673.8 L679.4,671.2 L679.0,668.8 L678.4,666.2 L677.8,663.8 L677.1,661.2 L676.4,658.8 L675.7,656.2 L675.0,653.8 L674.2,651.2 L673.4,648.8 L672.5,646.2 L671.6,643.8 L670.6,641.2 L669.6,638.8 L668.5,636.2 L667.3,633.8 L666.2,631.2 L665.0,628.8 L663.9,626.2 L662.7,623.8 L661.5,621.2 L660.2,618.8 L658.9,616.2 L657.5,613.8 L656.1,611.2 L654.6,608.8 L653.1,606.2 L651.5,603.8 L649.8,601.2 L647.9,598.8 L646.2,596.2 L644.6,593.8 L643.2,591.2 L641.9,588.8 L640.7,586.2 L639.6,583.8 L638.8,581.2 L638.3,578.8 L637.8,576.2 L637.5,573.8 L637.2,571.2 L636.9,568.8 L636.8,566.2 L636.8,563.8 L636.9,561.2 L637.1,558.8 L637.3,556.2 L637.5,553.8 L637.9,551.2 L638.4,548.8 L638.9,546.2 L639.6,543.8 L640.3,541.2 L641.3,538.8 L642.5,536.2 L643.8,533.8 L644.8,531.2 L645.5,528.8 L646.0,526.2 L646.6,523.8 L647.2,521.2 L647.8,518.8 L648.4,516.2 L649.0,513.8 L649.7,511.2 L650.3,508.8 L650.9,506.2 L651.4,503.8 L652.0,501.2 L652.4,498.8 L652.9,496.2 L653.3,493.8 L653.7,491.2 L654.1,488.8 L654.5,486.2 L654.8,483.8 L655.2,481.2 L655.6,478.8 L656.0,476.2 L656.4,473.8 L656.8,471.2 L657.2,468.8 L657.6,466.2 L658.0,463.8 L658.4,461.2 L658.9,458.8 L659.3,456.2 L659.8,453.8 L660.2,451.2 L660.8,448.8 L661.3,446.2 L661.9,443.8 L662.5,441.2 L663.2,438.8 L663.8,436.2 L664.5,433.8 L665.4,431.2 L666.2,428.8 L667.1,426.2 L667.9,423.8 L668.7,421.2 L669.5,418.8 L670.2,416.2 L671.0,413.8 L671.8,411.2 L672.5,408.8 L673.3,406.2 L674.0,403.8 L674.8,401.2 L675.5,398.8 L676.2,396.2 L676.8,393.8 L677.4,391.2 L678.0,388.8 L678.5,386.2 L678.9,383.8 L679.3,381.2 L679.7,378.8 L680.1,376.2 L680.4,373.8 L680.7,371.2 L681.0,368.8 L681.2,366.2 L681.4,363.8 L681.6,361.2 L681.7,358.8 L681.9,356.2 L682.0,353.8 L682.2,351.2 L682.3,348.8 L682.4,346.2 L682.6,343.8 L682.7,341.2 L682.9,338.8 L683.0,336.2 L683.1,333.8 L683.3,331.2 L683.4,328.8Z"/>
<path d="M931.3,328.8 L931.6,331.2 L931.8,333.8 L932.1,336.2 L932.5,338.8 L932.9,341.2 L933.4,343.8 L934.0,346.2 L934.6,348.8 L935.2,351.2 L935.7,353.8 L936.4,356.2 L937.0,358.8 L937.6,361.2 L938.3,363.8 L938.9,366.2 L939.6,368.8 L940.3,371.2 L940.9,373.8 L941.5,376.2 L942.1,378.8 L942.6,381.2 L943.1,383.8 L943.5,386.2 L943.8,388.8 L944.0,391.2 L944.0,393.8 L944.1,396.2 L944.2,398.8 L944.2,401.2 L944.2,403.8 L944.0,406.2 L943.7,408.8 L943.3,411.2 L942.9,413.8 L942.7,416.2 L942.4,418.8 L942.1,421.2 L941.9,423.8 L941.7,426.2 L941.7,428.8 L941.8,431.2 L942.0,433.8 L942.2,436.2 L942.4,438.8 L942.8,441.2 L943.3,443.8 L943.8,446.2 L944.4,448.8 L945.0,451.2 L945.6,453.8 L946.3,456.2 L947.0,458.8 L947.8,461.2 L948.7,463.8 L949.7,466.2 L950.8,468.8 L952.1,471.2 L953.3,473.8 L954.5,476.2 L955.7,478.8 L956.9,481.2 L958.2,483.8 L959.5,486.2 L960.9,488.8 L962.3,491.2 L963.8,493.8 L965.4,496.2 L966.9,498.8 L968.3,501.2 L969.9,503.8 L971.4,506.2 L972.8,508.8 L974.2,511.2 L975.4,513.8 L976.5,516.2 L977.6,518.8 L978.5,521.2 L979.4,523.8 L980.2,526.2 L980.9,528.8 L981.2,531.2 L981.4,533.8 L981.5,536.2 L981.6,538.8 L981.7,541.2 L981.7,543.8 L981.7,546.2 L981.5,548.8 L981.2,551.2 L980.9,553.8 L980.4,556.2 L979.9,558.8 L979.2,561.2 L978.2,563.8 L977.1,566.2 L976.0,568.8 L974.9,571.2 L973.9,573.8 L972.8,576.2 L971.8,578.8 L970.7,581.2 L969.7,583.8 L968.7,586.2 L967.7,588.8 L966.7,591.2 L965.7,593.8 L964.7,596.2 L963.6,598.8 L962.5,601.2 L961.4,603.8 L960.3,606.2 L959.2,608.8 L958.1,611.2 L957.0,613.8 L955.9,616.2 L954.8,618.8 L953.6,621.2 L952.5,623.8 L951.4,626.2 L950.3,628.8 L949.2,631.2 L948.0,633.8 L946.8,636.2 L945.6,638.8 L944.4,641.2 L943.2,643.8 L942.0,646.2 L940.8,648.8 L939.7,651.2 L938.7,653.8 L937.7,656.2 L936.7,658.8 L935.8,661.2 L935.0,663.8 L934.3,666.2 L933.6,668.8 L933.0,671.2 L932.5,673.8 L932.0,676.2 L931.5,678.8 L931.3,680.0 L918.7,680.0 L918.5,678.8 L918.0,676.2 L917.5,673.8 L917.0,671.2 L916.4,668.8 L915.7,666.2 L915.0,663.8 L914.2,661.2 L913.3,658.8 L912.3,656.2 L911.3,653.8 L910.3,651.2 L909.2,648.8 L908.0,646.2 L906.8,643.8 L905.6,641.2 L904.4,638.8 L903.2,636.2 L902.0,633.8 L900.8,631.2 L899.7,628.8 L898.6,626.2 L897.5,623.8 L896.4,621.2 L895.2,618.8 L894.1,616.2 L893.0,613.8 L891.9,611.2 L890.8,608.8 L889.7,606.2 L888.6,603.8 L887.5,601.2 L886.4,598.8 L885.3,596.2 L884.3,593.8 L883.3,591.2 L882.3,588.8 L881.3,586.2 L880.3,583.8 L879.3,581.2 L878.2,578.8 L877.2,576.2 L876.1,573.8 L875.1,571.2 L874.0,568.8 L872.9,566.2 L871.8,563.8 L870.8,561.2 L870.1,558.8 L869.6,556.2 L869.1,553.8 L868.8,551.2 L868.5,548.8 L868.3,546.2 L868.3,543.8 L868.3,541.2 L868.4,538.8 L868.5,536.2 L868.6,533.8 L868.8,531.2 L869.1,528.8 L869.8,526.2 L870.6,523.8 L871.5,521.2 L872.4,518.8 L873.5,516.2 L874.6,513.8 L875.8,511.2 L877.2,508.8 L878.6,506.2 L880.1,503.8 L881.7,501.2 L883.1,498.8 L884.6,496.2 L886.2,493.8 L887.7,491.2 L889.1,488.8 L890.5,486.2 L891.8,483.8 L893.1,481.2 L894.3,478.8 L895.5,476.2 L896.7,473.8 L897.9,471.2 L899.2,468.8 L900.3,466.2 L901.3,463.8 L902.2,461.2 L903.0,458.8 L903.7,456.2 L904.4,453.8 L905.0,451.2 L905.6,448.8 L906.2,446.2 L906.7,443.8 L907.2,441.2 L907.6,438.8 L907.8,436.2 L908.0,433.8 L908.2,431.2 L908.3,428.8 L908.3,426.2 L908.1,423.8 L907.9,421.2 L907.6,418.8 L907.3,416.2 L907.1,413.8 L906.7,411.2 L906.3,408.8 L906.0,406.2 L905.8,403.8 L905.8,401.2 L905.8,398.8 L905.9,396.2 L906.0,393.8 L906.0,391.2 L906.2,388.8 L906.5,386.2 L906.9,383.8 L907.4,381.2 L907.9,378.8 L908.5,376.2 L909.1,373.8 L909.7,371.2 L910.4,368.8 L911.1,366.2 L911.7,363.8 L912.4,361.2 L913.0,358.8 L913.6,356.2 L914.3,353.8 L914.8,351.2 L915.4,348.8 L916.0,346.2 L916.6,343.8 L917.1,341.2 L917.5,338.8 L917.9,336.2 L918.2,333.8 L918.4,331.2 L918.7,328.8Z"/>
<path d="M1164.3,353.8 L1165.0,356.2 L1165.6,358.8 L1166.3,361.2 L1167.0,363.8 L1167.8,366.2 L1168.5,368.8 L1169.3,371.2 L1170.0,373.8 L1170.7,376.2 L1171.5,378.8 L1172.2,381.2 L1172.9,383.8 L1173.7,386.2 L1174.4,388.8 L1175.2,391.2 L1176.0,393.8 L1176.9,396.2 L1177.7,398.8 L1178.6,401.2 L1179.4,403.8 L1180.3,406.2 L1181.1,408.8 L1182.0,411.2 L1182.8,413.8 L1183.8,416.2 L1184.7,418.8 L1185.7,421.2 L1186.7,423.8 L1187.7,426.2 L1188.7,428.8 L1189.7,431.2 L1190.7,433.8 L1191.7,436.2 L1192.7,438.8 L1193.7,441.2 L1194.6,443.8 L1195.6,446.2 L1196.5,448.8 L1197.4,451.2 L1198.3,453.8 L1199.2,456.2 L1200.1,458.8 L1200.9,461.2 L1201.9,463.8 L1202.8,466.2 L1203.6,468.8 L1204.0,471.2 L1204.4,473.8 L1204.7,476.2 L1204.9,478.8 L1205.1,481.2 L1205.1,483.8 L1205.0,486.2 L1204.9,488.8 L1204.7,491.2 L1204.5,493.8 L1204.4,496.2 L1204.2,498.8 L1204.1,501.2 L1203.9,503.8 L1203.7,506.2 L1203.5,508.8 L1203.1,511.2 L1202.7,513.8 L1202.3,516.2 L1201.9,518.8 L1201.5,521.2 L1201.1,523.8 L1200.7,526.2 L1200.3,528.8 L1199.9,531.2 L1199.5,533.8 L1199.1,536.2 L1198.8,538.8 L1198.4,541.2 L1198.0,543.8 L1197.6,546.2 L1197.1,548.8 L1196.6,551.2 L1196.1,553.8 L1195.7,556.2 L1195.3,558.8 L1195.1,561.2 L1194.7,563.8 L1194.2,566.2 L1193.7,568.8 L1193.1,571.2 L1192.5,573.8 L1191.9,576.2 L1191.2,578.8 L1190.4,581.2 L1189.6,583.8 L1188.9,586.2 L1188.1,588.8 L1187.4,591.2 L1186.6,593.8 L1185.9,596.2 L1185.2,598.8 L1184.6,601.2 L1184.0,603.8 L1183.5,606.2 L1182.9,608.8 L1182.4,611.2 L1182.0,613.8 L1181.5,616.2 L1181.1,618.8 L1180.7,621.2 L1180.3,623.8 L1179.9,626.2 L1179.5,628.8 L1179.1,631.2 L1178.8,633.8 L1178.4,636.2 L1178.0,638.8 L1177.6,641.2 L1177.2,643.8 L1176.9,646.2 L1176.5,648.8 L1176.1,651.2 L1175.7,653.8 L1175.3,656.2 L1174.9,658.8 L1174.6,661.2 L1174.3,663.8 L1174.1,666.2 L1173.8,668.8 L1173.4,671.2 L1173.0,673.8 L1172.6,676.2 L1172.2,678.8 L1171.7,681.2 L1171.3,683.8 L1170.8,686.2 L1170.3,688.8 L1169.8,691.2 L1169.4,693.8 L1169.0,696.2 L1168.6,698.8 L1168.2,701.2 L1167.8,703.8 L1167.4,706.2 L1167.1,708.8 L1166.7,711.2 L1166.4,713.8 L1166.1,716.2 L1165.8,718.8 L1165.5,721.2 L1165.2,723.8 L1164.9,726.2 L1164.6,728.8 L1164.4,731.2 L1164.2,733.8 L1163.9,736.2 L1163.7,738.8 L1163.6,741.2 L1163.4,743.8 L1163.2,746.2 L1163.1,748.8 L1162.9,751.2 L1162.8,753.8 L1162.6,756.2 L1162.5,758.8 L1162.3,761.2 L1162.1,763.8 L1162.0,766.2 L1161.9,768.8 L1161.8,771.2 L1161.7,773.8 L1161.6,776.2 L1161.5,778.8 L1161.4,781.2 L1161.4,783.8 L1161.3,786.2 L1161.2,788.8 L1161.2,791.2 L1161.2,793.0 L1156.8,793.0 L1156.8,791.2 L1156.8,788.8 L1156.7,786.2 L1156.6,783.8 L1156.6,781.2 L1156.5,778.8 L1156.4,776.2 L1156.3,773.8 L1156.2,771.2 L1156.1,768.8 L1156.0,766.2 L1155.9,763.8 L1155.7,761.2 L1155.5,758.8 L1155.4,756.2 L1155.2,753.8 L1155.1,751.2 L1154.9,748.8 L1154.8,746.2 L1154.6,743.8 L1154.4,741.2 L1154.3,738.8 L1154.1,736.2 L1153.8,733.8 L1153.6,731.2 L1153.4,728.8 L1153.1,726.2 L1152.8,723.8 L1152.5,721.2 L1152.2,718.8 L1151.9,716.2 L1151.6,713.8 L1151.3,711.2 L1150.9,708.8 L1150.6,706.2 L1150.2,703.8 L1149.8,701.2 L1149.4,698.8 L1149.0,696.2 L1148.6,693.8 L1148.2,691.2 L1147.7,688.8 L1147.2,686.2 L1146.7,683.8 L1146.3,681.2 L1145.8,678.8 L1145.4,676.2 L1145.0,673.8 L1144.6,671.2 L1144.2,668.8 L1143.9,666.2 L1143.7,663.8 L1143.4,661.2 L1143.1,658.8 L1142.7,656.2 L1142.3,653.8 L1141.9,651.2 L1141.5,648.8 L1141.1,646.2 L1140.8,643.8 L1140.4,641.2 L1140.0,638.8 L1139.6,636.2 L1139.2,633.8 L1138.9,631.2 L1138.5,628.8 L1138.1,626.2 L1137.7,623.8 L1137.3,621.2 L1136.9,618.8 L1136.5,616.2 L1136.0,613.8 L1135.6,611.2 L1135.1,608.8 L1134.5,606.2 L1134.0,603.8 L1133.4,601.2 L1132.8,598.8 L1132.1,596.2 L1131.4,593.8 L1130.6,591.2 L1129.9,588.8 L1129.1,586.2 L1128.4,583.8 L1127.6,581.2 L1126.8,578.8 L1126.1,576.2 L1125.5,573.8 L1124.9,571.2 L1124.3,568.8 L1123.8,566.2 L1123.3,563.8 L1122.9,561.2 L1122.7,558.8 L1122.3,556.2 L1121.9,553.8 L1121.4,551.2 L1120.9,548.8 L1120.4,546.2 L1120.0,543.8 L1119.6,541.2 L1119.2,538.8 L1118.9,536.2 L1118.5,533.8 L1118.1,531.2 L1117.7,528.8 L1117.3,526.2 L1116.9,523.8 L1116.5,521.2 L1116.1,518.8 L1115.7,516.2 L1115.3,513.8 L1114.9,511.2 L1114.5,508.8 L1114.3,506.2 L1114.1,503.8 L1113.9,501.2 L1113.8,498.8 L1113.6,496.2 L1113.5,493.8 L1113.3,491.2 L1113.1,488.8 L1113.0,486.2 L1112.9,483.8 L1112.9,481.2 L1113.1,478.8 L1113.3,476.2 L1113.6,473.8 L1114.0,471.2 L1114.4,468.8 L1115.2,466.2 L1116.1,463.8 L1117.1,461.2 L1117.9,458.8 L1118.8,456.2 L1119.7,453.8 L1120.6,451.2 L1121.5,448.8 L1122.4,446.2 L1123.4,443.8 L1124.3,441.2 L1125.3,438.8 L1126.3,436.2 L1127.3,433.8 L1128.3,431.2 L1129.3,428.8 L1130.3,426.2 L1131.3,423.8 L1132.3,421.2 L1133.3,418.8 L1134.2,416.2 L1135.2,413.8 L1136.0,411.2 L1136.9,408.8 L1137.7,406.2 L1138.6,403.8 L1139.4,401.2 L1140.3,398.8 L1141.1,396.2 L1142.0,393.8 L1142.8,391.2 L1143.6,388.8 L1144.3,386.2 L1145.1,383.8 L1145.8,381.2 L1146.5,378.8 L1147.3,376.2 L1148.0,373.8 L1148.7,371.2 L1149.5,368.8 L1150.2,366.2 L1151.0,363.8 L1151.7,361.2 L1152.4,358.8 L1153.0,356.2 L1153.7,353.8Z"/>
</g>
<g fill="#8B0000">
<circle cx="222" cy="580.1" r="15"/>
<circle cx="456" cy="604.9" r="15"/>
<circle cx="690" cy="536.1" r="15"/>
<circle cx="925" cy="529.9" r="15"/>
<circle cx="1159" cy="524.1" r="15"/>
</g>
<g stroke="#000" stroke-width="1">
<line x1="225.5" x2="228.0" y1="580.4" y2="580.4"/><line x1="233.0" x2="235.1" y1="580.4" y2="580.4"/>
<line x1="459.5" x2="462.0" y1="605.2" y2="605.2"/><line x1="467.0" x2="470.6" y1="605.2" y2="605.2"/>
<line x1="693.5" x2="696.0" y1="536.4" y2="536.4"/><line x1="701.0" x2="704.7" y1="536.4" y2="536.4"/>
<line x1="927.5" y1="531.5" x2="931.5" y2="533.5"/><line x1="935.5" y1="535.5" x2="939" y2="537.5"/>
<line x1="1162.5" y1="522.6" x2="1169.2" y2="518.1" stroke-width="1.3"/><line x1="1174.5" y1="514.2" x2="1177" y2="512.6"/>
</g>
<rect x="235.1" y="557.2" width="167.5" height="46.3" rx="4.2" ry="4.2" fill="#fff" stroke="#000" stroke-width="1.1"/><text class="sy" font-size="24.4" transform="translate(244.1,590.3) scale(1.18,1)">μ</text><text font-size="32" transform="translate(244.5,581.1) scale(1.08,0.62)">^</text><text x="258.7" y="593.4" font-size="16.1">median</text><text class="sy" font-size="24" transform="translate(314.7,589.4) scale(1.16,0.74)">=</text><text x="333.6" y="588.7" font-size="23.2">34.80</text>
<rect x="470.6" y="583.4" width="166.2" height="45.1" rx="4.2" ry="4.2" fill="#fff" stroke="#000" stroke-width="1.1"/><text class="sy" font-size="24.4" transform="translate(479.6,615.4) scale(1.18,1)">μ</text><text font-size="32" transform="translate(480.0,606.2) scale(1.08,0.62)">^</text><text x="494.2" y="618.5" font-size="16.1">median</text><text class="sy" font-size="24" transform="translate(550.2,614.5) scale(1.16,0.74)">=</text><text x="569.1" y="613.8" font-size="23.2">34.60</text>
<rect x="704.7" y="513.2" width="166.9" height="45.9" rx="4.2" ry="4.2" fill="#fff" stroke="#000" stroke-width="1.1"/><text class="sy" font-size="24.4" transform="translate(713.7,546.2) scale(1.18,1)">μ</text><text font-size="32" transform="translate(714.1,537.0) scale(1.08,0.62)">^</text><text x="728.3" y="549.3" font-size="16.1">median</text><text class="sy" font-size="24" transform="translate(784.3,545.3) scale(1.16,0.74)">=</text><text x="803.2" y="544.6" font-size="23.2">35.15</text>
<rect x="938.7" y="531.4" width="166.9" height="44.9" rx="4.2" ry="4.2" fill="#fff" stroke="#000" stroke-width="1.1"/><text class="sy" font-size="24.4" transform="translate(947.7,563.3) scale(1.18,1)">μ</text><text font-size="32" transform="translate(948.1,554.1) scale(1.08,0.62)">^</text><text x="962.3" y="566.4" font-size="16.1">median</text><text class="sy" font-size="24" transform="translate(1018.3,562.4) scale(1.16,0.74)">=</text><text x="1037.2" y="561.7" font-size="23.2">35.20</text>
<rect x="1123.5" y="466.2" width="167.3" height="45.9" rx="4.2" ry="4.2" fill="#fff" stroke="#000" stroke-width="1.1"/><text class="sy" font-size="24.4" transform="translate(1132.5,499.2) scale(1.18,1)">μ</text><text font-size="32" transform="translate(1132.9,490.0) scale(1.08,0.62)">^</text><text x="1147.1" y="502.3" font-size="16.1">median</text><text class="sy" font-size="24" transform="translate(1203.1,498.3) scale(1.16,0.74)">=</text><text x="1222.0" y="497.6" font-size="23.2">35.25</text>
<g stroke="#000" stroke-width="2" fill="none" shape-rendering="crispEdges">
<path d="M222,194.7 L222,189 L456,189 L456,194.7"/>
<path d="M690,166.7 L690,161 L925,161 L925,166.7"/>
<path d="M690,139.7 L690,134 L1159,134 L1159,139.7"/>
<path d="M925,112.7 L925,107 L1159,107 L1159,112.7"/>
</g>
<text class="it" x="263.8" y="174.1" font-size="23.2">p</text><text x="278.1" y="178.9" font-size="16.1">FDR–adj.</text><text class="sy" font-size="24" transform="translate(350.1,175.3) scale(1.16,0.74)">=</text><text x="369.2" y="174.1" font-size="23.2">0.73</text>
<text class="it" x="732.3" y="146.1" font-size="23.2">p</text><text x="746.6" y="150.9" font-size="16.1">FDR–adj.</text><text class="sy" font-size="24" transform="translate(818.6,147.3) scale(1.16,0.74)">=</text><text x="837.7" y="146.1" font-size="23.2">0.96</text>
<text class="it" x="849.3" y="119.1" font-size="23.2">p</text><text x="863.6" y="123.9" font-size="16.1">FDR–adj.</text><text class="sy" font-size="24" transform="translate(935.6,120.3) scale(1.16,0.74)">=</text><text x="954.7" y="119.1" font-size="23.2">0.96</text>
<text class="it" x="966.8" y="92.1" font-size="23.2">p</text><text x="981.1" y="96.9" font-size="16.1">FDR–adj.</text><text class="sy" font-size="24" transform="translate(1053.1,93.3) scale(1.16,0.74)">=</text><text x="1072.2" y="92.1" font-size="23.2">0.97</text>
<g fill="#4D4D4D" font-size="21.4">
<text x="68.8" y="815.4" text-anchor="end">33</text>
<text x="68.8" y="689.8" text-anchor="end">34</text>
<text x="68.8" y="564.2" text-anchor="end">35</text>
<text x="68.8" y="438.6" text-anchor="end">36</text>
<text x="68.8" y="313.0" text-anchor="end">37</text>
<text x="68.8" y="187.4" text-anchor="end">38</text>
<text x="222" y="889" text-anchor="middle">Central</text>
<text x="222" y="911" text-anchor="middle">(n = 42)</text>
<text x="456" y="889" text-anchor="middle">East</text>
<text x="456" y="911" text-anchor="middle">(n = 64)</text>
<text x="690" y="889" text-anchor="middle">North</text>
<text x="690" y="911" text-anchor="middle">(n = 56)</text>
<text x="925" y="889" text-anchor="middle">North-East</text>
<text x="925" y="911" text-anchor="middle">(n = 63)</text>
<text x="1159" y="889" text-anchor="middle">West</text>
<text x="1159" y="911" text-anchor="middle">(n = 98)</text>
</g>
<text x="690" y="941.7" text-anchor="middle" font-size="27.6" font-weight="bold">Region</text>
<text transform="translate(35.4,464.4) rotate(-90)" text-anchor="middle" font-size="27.7" font-weight="bold">Maximum Temperature</text>
<text transform="translate(1313,467.2) rotate(90)" text-anchor="middle" font-size="21.2">Pairwise test: <tspan font-weight="bold">Dunn</tspan>, Bars shown: <tspan font-weight="bold">non-significant</tspan></text>
<text class="sy" x="82" y="44.3" font-size="28">χ</text>
<text x="96.3" y="28.6" font-size="20.3">2</text>
<text x="96.3" y="52.2" font-size="18.7">Kruskal-Wallis</text>
<text x="216" y="43.8" font-size="27.3">(4)</text>
<text class="sy" font-size="28" transform="translate(252.4,44.8) scale(1.16,0.74)">=</text>
<text x="275.8" y="43.8" font-size="27.3">33.68,</text>
<text class="it" x="358.5" y="43.8" font-size="27.3">p</text>
<text class="sy" font-size="28" transform="translate(380.6,44.8) scale(1.16,0.74)">=</text>
<text x="404" y="43.8" font-size="27.3">8.67e-07,</text>
<text class="sy" x="526" y="43.8" font-size="28">ε</text>
<text x="537.2" y="28.6" font-size="20.3">2</text>
<text x="538.5" y="52.6" font-size="18.7">ordinal</text>
<text class="sy" font-size="28" transform="translate(599.2,44.8) scale(1.16,0.74)">=</text>
<text x="621.5" y="43.8" font-size="27.3">0.10,</text>
<text x="689.5" y="43.8" font-size="27.3">CI</text>
<text x="718" y="49.5" font-size="18.7">95%</text>
<text x="764.5" y="43.8" font-size="27.3">[0.06,</text>
<text x="840.5" y="43.8" font-size="27.3">1.00],</text>
<text class="it" x="916" y="43.8" font-size="27.3">n</text>
<text x="934.5" y="49.5" font-size="18.7">obs</text>
<text class="sy" font-size="28" transform="translate(970.6,44.8) scale(1.16,0.74)">=</text>
<text x="993.3" y="43.8" font-size="27.3">323</text>
<text font-size="34" transform="translate(524.5,37.2) scale(1.0,0.78)">^</text>
</svg></body></html>
